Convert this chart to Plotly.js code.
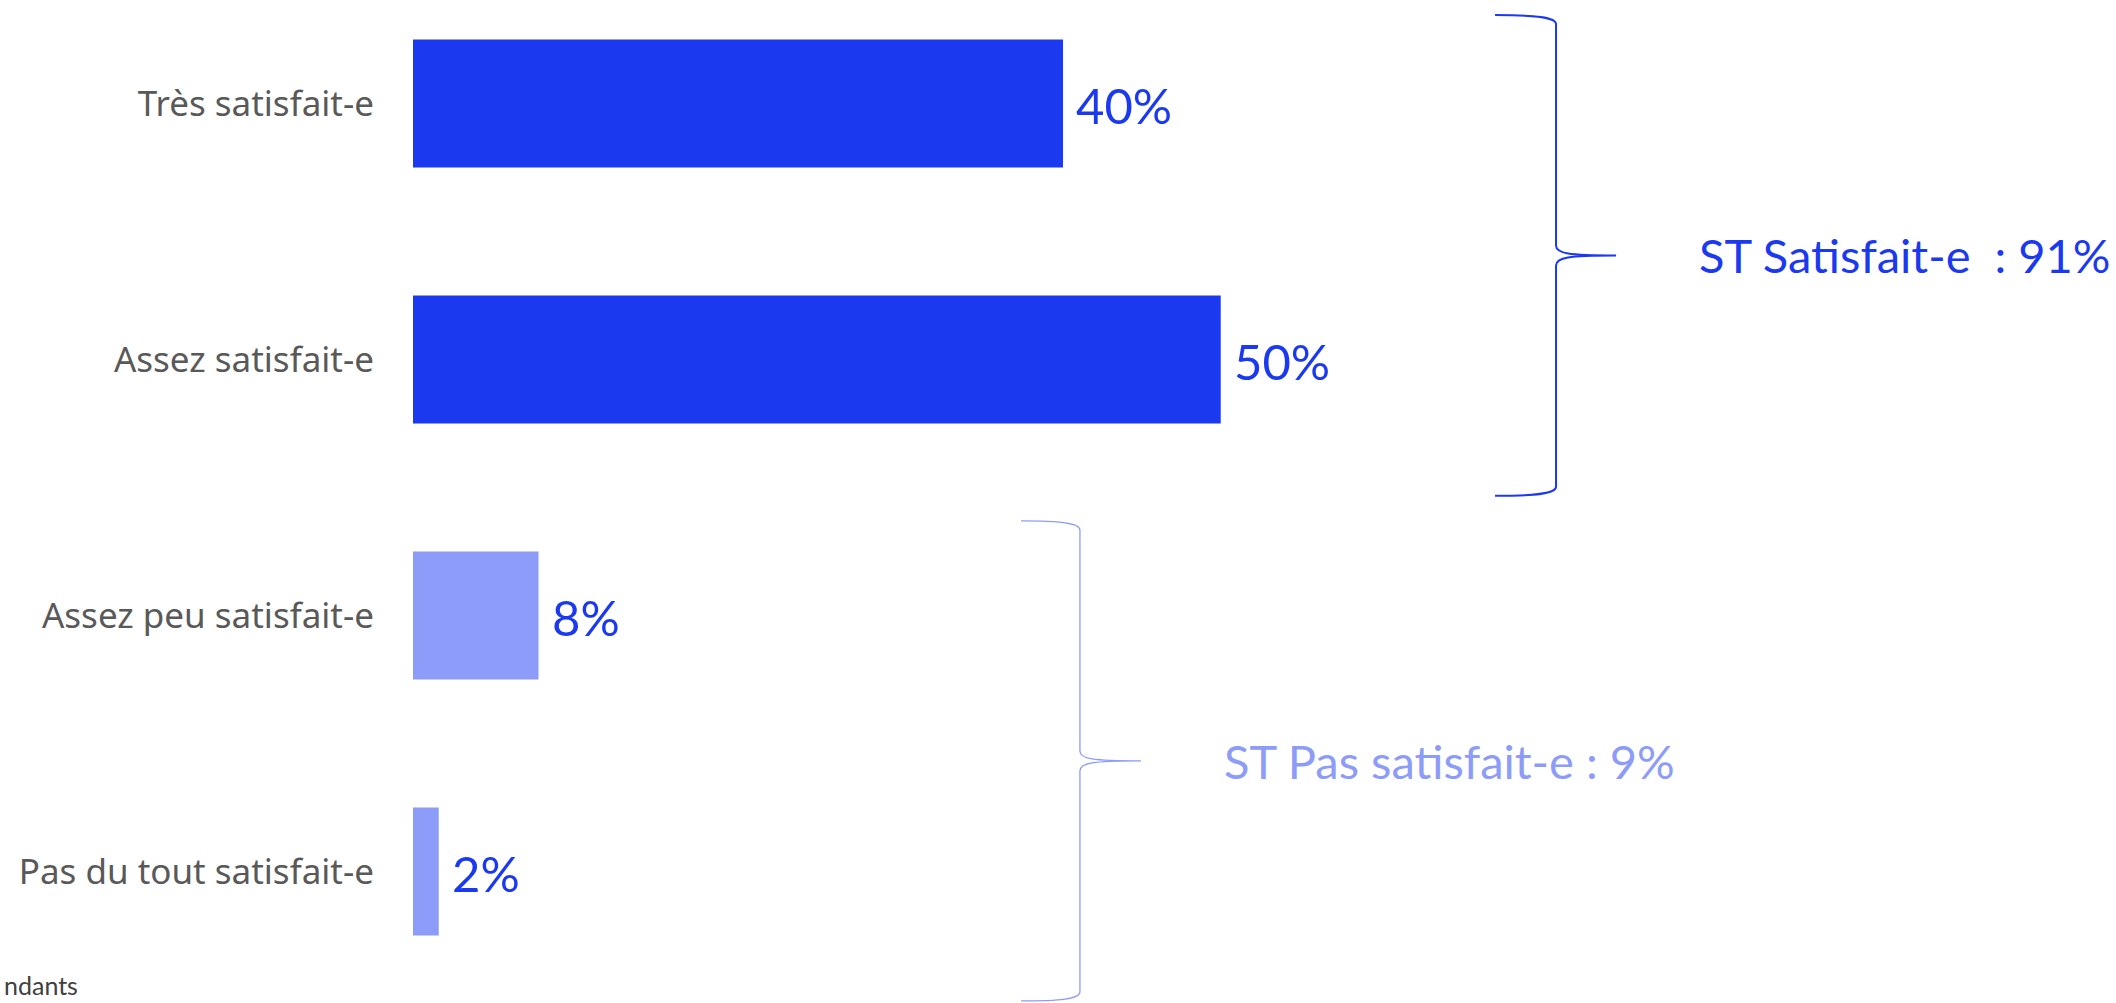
<!DOCTYPE html>
<html>
<head>
<meta charset="utf-8">
<script src="https://cdn.plot.ly/plotly-3.0.1.min.js"></script>
<style>html,body{margin:0;padding:0;background:#fff;}#chart{width:2116px;height:1003px;}</style>
</head>
<body>
<div id="chart"></div>
<script>
// ---- data ----
const categories = ['Très satisfait-e', 'Assez satisfait-e', 'Assez peu satisfait-e', 'Pas du tout satisfait-e'];
const values = [40.4, 50.2, 7.8, 1.6];
const barColors = ['#1b3af0', '#1b3af0', '#8c9cf8', '#8c9cf8'];
const groupLabels = ['ST Satisfait-e\u00a0\u00a0: ', 'ST Pas satisfait-e : '];
const groupMembers = [[0, 1], [2, 3]];
const groupColors = ['#1b3af0', '#8c9cf8'];
const footnote = 'ndants';

// ---- layout geometry ----
const W = 2116, H = 1003, ML = 413, MR = 94;
const plotW = W - ML - MR;
const xRange = [0, 100];
const yRange = [3.514, -0.404];
const kx = (xRange[1] - xRange[0]) / plotW;   // data units per px
const ky = (yRange[0] - yRange[1]) / H;

function bracePath(xl, xv, xt, y0, y1) {
  const ym = (y0 + y1) / 2;
  const d = 9 * ky, e = 10 * ky, f = 12 * kx, g = 20 * kx;
  return `M ${xl},${y0} C ${xv - g},${y0} ${xv},${y0 + 2 * ky} ${xv},${y0 + d} ` +
         `L ${xv},${ym - e} C ${xv},${ym - 2 * ky} ${xv + f},${ym} ${xt},${ym} ` +
         `M ${xt},${ym} C ${xv + f},${ym} ${xv},${ym + 2 * ky} ${xv},${ym + e} ` +
         `L ${xv},${y1 - d} C ${xv},${y1 - 2 * ky} ${xv - g},${y1} ${xl},${y1}`;
}

// brace placement (decoration, in axis units)
const braceGeom = [
  {xl: 67.25, xv: 71.04, xt: 74.77, y0: -0.345, y1: 1.533, w: 2},
  {xl: 37.79, xv: 41.45, xt: 45.25, y0: 1.631, y1: 3.506, w: 1.3}
];

const ypos = categories.map((c, i) => i);

const trace = {
  type: 'bar',
  orientation: 'h',
  x: values,
  y: ypos,
  width: 0.5,
  marker: {color: barColors},
  hoverinfo: 'skip'
};

const annotations = values.map((v, i) => ({
  x: v, y: i, xref: 'x', yref: 'y',
  text: Math.round(v) + '%',
  showarrow: false, xanchor: 'left', yanchor: 'middle', xshift: 11, yshift: -2,
  font: {family: 'Lato', size: 49, color: '#1b3af0'}
}));

const shapes = [];
groupMembers.forEach((m, gi) => {
  const b = braceGeom[gi];
  const total = m.reduce((s, i) => s + values[i], 0);
  shapes.push({
    type: 'path', xref: 'x', yref: 'y',
    path: bracePath(b.xl, b.xv, b.xt, b.y0, b.y1),
    line: {color: groupColors[gi], width: b.w}
  });
  annotations.push({
    x: b.xt, y: (b.y0 + b.y1) / 2, xref: 'x', yref: 'y',
    text: groupLabels[gi] + Math.round(total) + '%',
    showarrow: false, xanchor: 'left', yanchor: 'middle', xshift: 81,
    font: {family: 'Lato', size: 47, color: groupColors[gi]}
  });
});

annotations.push({
  x: -ML / plotW + 2 / plotW, y: 0, xref: 'paper', yref: 'paper',
  text: footnote, showarrow: false, xanchor: 'left', yanchor: 'bottom', yshift: 1,
  font: {family: 'Lato', size: 25, color: '#404040'}
});

const layout = {
  width: W, height: H,
  margin: {l: ML, r: MR, t: 0, b: 0, pad: 0},
  paper_bgcolor: '#ffffff', plot_bgcolor: '#ffffff',
  showlegend: false,
  xaxis: {range: xRange, visible: false, fixedrange: true},
  yaxis: {
    range: yRange, tickvals: ypos, ticktext: categories,
    showgrid: false, zeroline: false, showline: false, ticks: '',
    ticklabelstandoff: 38, automargin: false,
    tickfont: {family: 'Noto Sans', size: 35, color: '#595959'}
  },
  shapes: shapes,
  annotations: annotations
};

Plotly.newPlot('chart', [trace], layout, {displayModeBar: false, staticPlot: true});
</script>
</body>
</html>
